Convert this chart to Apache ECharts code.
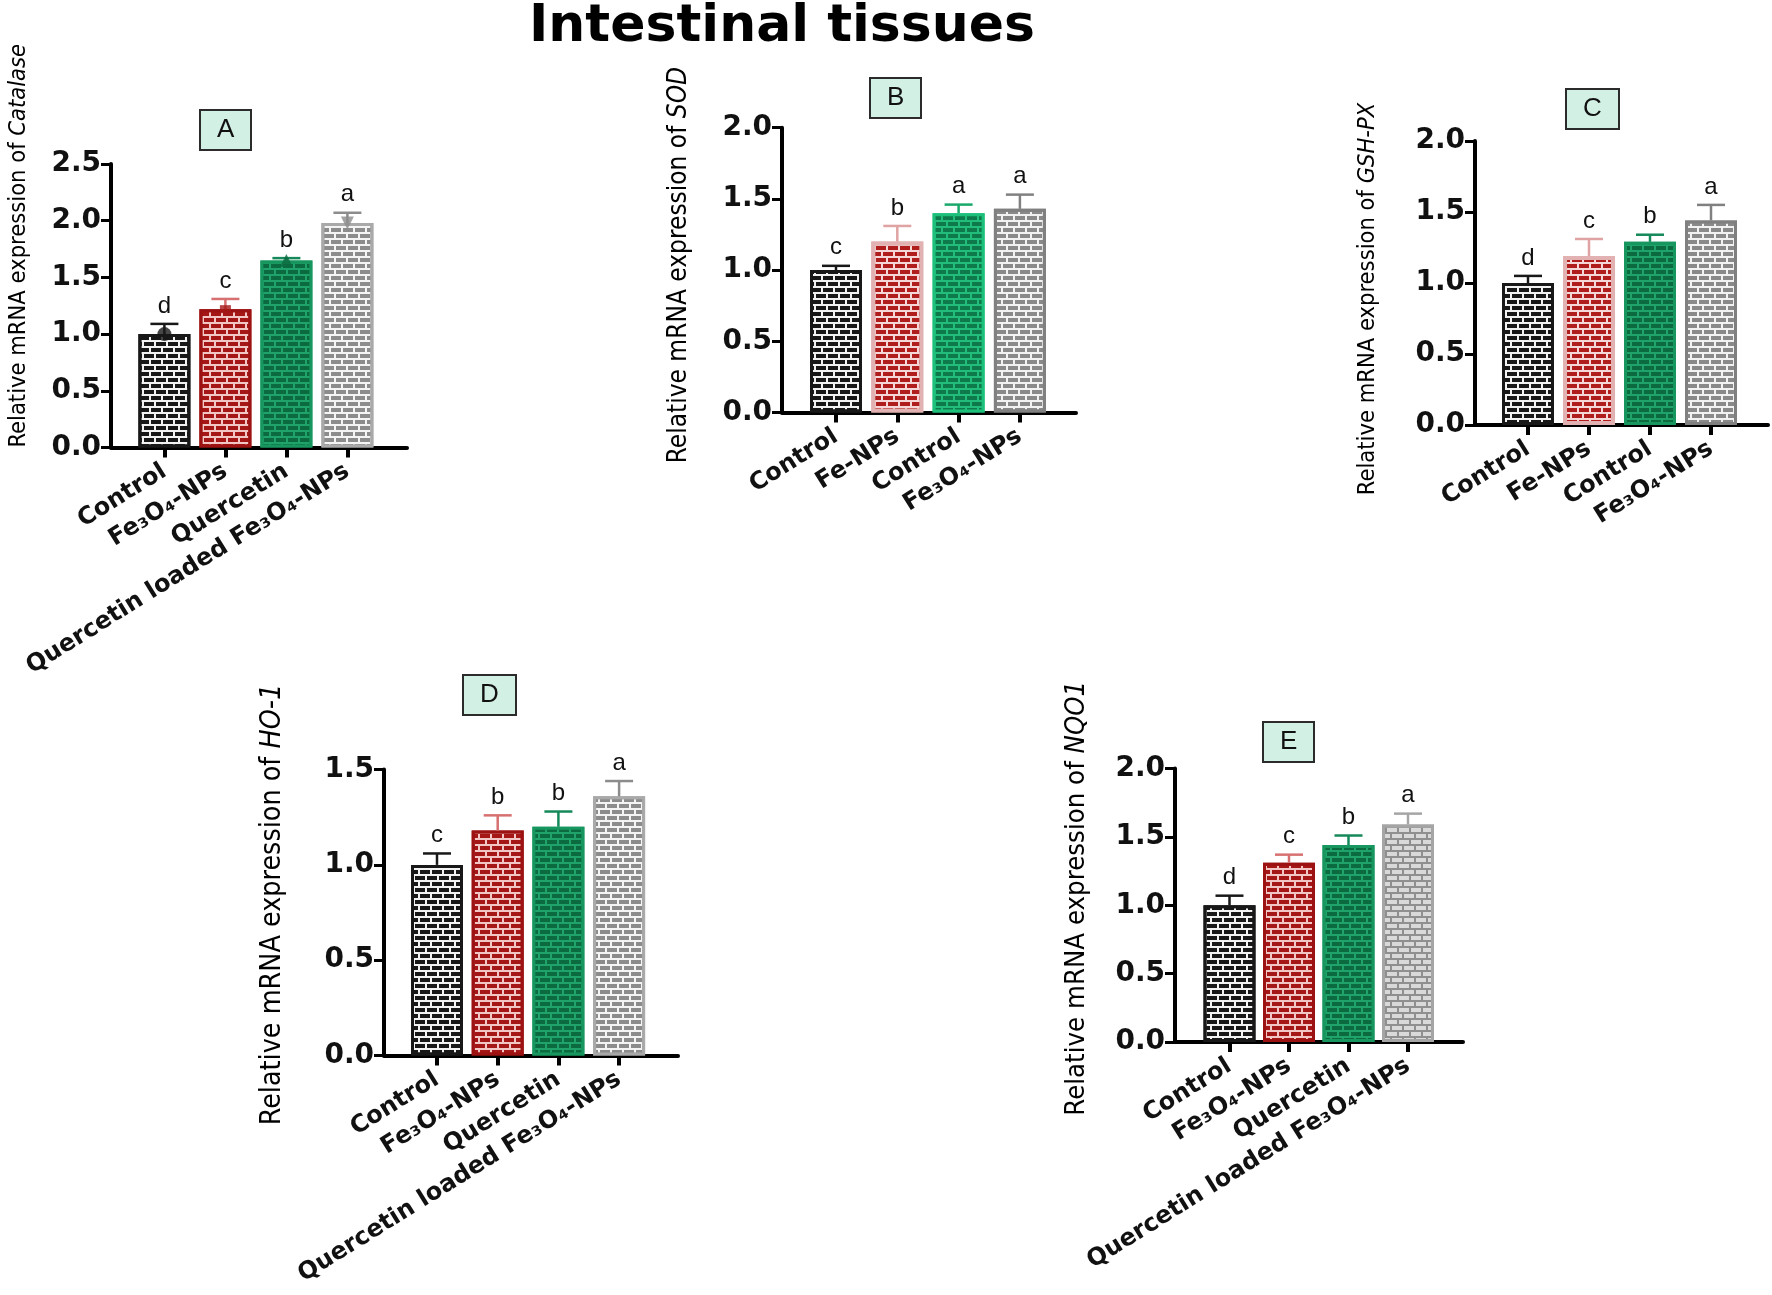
<!DOCTYPE html>
<html>
<head>
<meta charset="utf-8">
<title>Intestinal tissues</title>
<script src="https://cdn.jsdelivr.net/npm/echarts@6/dist/echarts.min.js"></script>
<style>
html, body { margin: 0; padding: 0; background: #fff; }
#main { width: 1772px; height: 1295px; }
</style>
</head>
<body>
<div id="main"></div>
<script>
// group names
var groupsQ = ['Control', 'Fe₃O₄-NPs', 'Quercetin', 'Quercetin loaded Fe₃O₄-NPs'];
var groupsFe = ['Control', 'Fe-NPs', 'Control', 'Fe₃O₄-NPs'];

// A - Catalase
var catMean = [1.00, 1.22, 1.65, 1.98];
var catErr = [0.09, 0.09, 0.02, 0.09];
var catSig = ['d', 'c', 'b', 'a'];
// B - SOD
var sodMean = [1.00, 1.20, 1.40, 1.43];
var sodErr = [0.03, 0.11, 0.06, 0.10];
var sodSig = ['c', 'b', 'a', 'a'];
// C - GSH-PX
var gshMean = [1.00, 1.19, 1.29, 1.44];
var gshErr = [0.05, 0.12, 0.05, 0.11];
var gshSig = ['d', 'c', 'b', 'a'];
// D - HO-1
var hoMean = [1.00, 1.18, 1.20, 1.36];
var hoErr = [0.06, 0.08, 0.08, 0.08];
var hoSig = ['c', 'b', 'b', 'a'];
// E - NQO1
var nqoMean = [1.00, 1.31, 1.44, 1.59];
var nqoErr = [0.07, 0.06, 0.07, 0.08];
var nqoSig = ['d', 'c', 'b', 'a'];

var NARROW = "'Liberation Sans Narrow', 'Arial Narrow', 'DejaVu Sans Condensed', sans-serif";
var WIDE = "'DejaVu Sans', Verdana, sans-serif";
var PLAIN = "'Liberation Sans', Arial, sans-serif";

// bar looks: mortar colour, brick colour, outline, error bar
var black = {fill: '#f2f2f2', brick: '#181818', border: '#181818', err: '#181818'};
var red = {fill: '#f3c6c6', brick: '#a51717', border: '#9c1111', err: '#d77070'};
var pink = {fill: '#f6d7d7', brick: '#b01d1d', border: '#e2b2b2', err: '#e0a3a3'};
var green = {fill: '#1fa36b', brick: '#0b6a40', border: '#17975f', err: '#15895a'};
var greenB = {fill: '#22bd7a', brick: '#0e7a4b', border: '#1cc07a', err: '#1aa86a'};
var grey = {fill: '#f4f4f4', brick: '#8c8c8c', border: '#a9a9a9', err: '#8c8c8c'};
var greyB = {fill: '#f2f2f2', brick: '#8a8a8a', border: '#808080', err: '#808080'};
var greyE = {fill: '#8f8f8f', brick: '#d9d9d9', border: '#a5a5a5', err: '#a5a5a5'};

var panels = [
    {key: 'A', gene: 'Catalase', cats: groupsQ, mean: catMean, err: catErr, sig: catSig, yMax: 2.5,
        looks: [black, red, green, grey], markers: true,
        axisX: 111, top: 164, zero: 447.5, first: 164.4, band: 61, end: 407, box: [200, 110],
        nameGap: 80, namePad: [0, 0, 0, 120], nameSize: 23.5},
    {key: 'B', gene: 'SOD', cats: groupsFe, mean: sodMean, err: sodErr, sig: sodSig, yMax: 2,
        looks: [black, pink, greenB, greyB],
        axisX: 782, top: 127.7, zero: 412.5, first: 836, band: 61.3, end: 1076, box: [870, 78],
        nameGap: 90, namePad: [0, 0, 0, 10], nameSize: 26},
    {key: 'C', gene: 'GSH-PX', cats: groupsFe, mean: gshMean, err: gshErr, sig: gshSig, yMax: 2,
        looks: [black, pink, green, greyB],
        axisX: 1475, top: 141, zero: 425, first: 1528, band: 61, end: 1768, box: [1566, 89],
        nameGap: 95, namePad: [0, 32, 0, 0], nameSize: 23.5},
    {key: 'D', gene: 'HO-1', cats: groupsQ, mean: hoMean, err: hoErr, sig: hoSig, yMax: 1.5,
        looks: [black, red, green, grey],
        axisX: 384, top: 769.6, zero: 1055.5, first: 437, band: 60.7, end: 678, box: [463, 675],
        nameGap: 97, namePad: [0, 0, 0, 16], nameSize: 28.4},
    {key: 'E', gene: 'NQO1', cats: groupsQ, mean: nqoMean, err: nqoErr, sig: nqoSig, yMax: 2,
        looks: [black, red, green, greyE],
        axisX: 1175, top: 768.5, zero: 1042, first: 1229.5, band: 59.5, end: 1463, box: [1263, 722],
        nameGap: 85, namePad: [0, 0, 0, 14], nameSize: 27.3}
];

function brick(color) {
    return {
        symbol: 'rect', symbolSize: 1, color: color,
        dashArrayX: [[10, 2], [5, 2, 5, 0]], dashArrayY: [4, 2]
    };
}

var grids = [], xAxes = [], yAxes = [], series = [];
var titles = [{
    text: 'Intestinal tissues', left: 524, top: -4,
    textStyle: {fontFamily: WIDE, fontWeight: 'bold', fontSize: 52, color: '#000'}
}];

panels.forEach(function (p) {
    var gi = grids.length;
    var left = p.first - p.band / 2;
    var h = p.zero - p.top;
    grids.push({left: left, top: p.top, width: p.band * 4, height: h});
    grids.push({left: p.axisX, top: p.top, width: p.end - p.axisX, height: h});

    xAxes.push({
        type: 'category', gridIndex: gi, data: p.cats,
        axisLine: {show: false},
        axisTick: {show: true, alignWithLabel: true, length: 10, lineStyle: {color: '#000', width: 4}},
        axisLabel: {interval: 0, rotate: 32, margin: 22, fontFamily: WIDE, fontWeight: 'bold',
            fontSize: 24, color: '#111'}
    });
    xAxes.push({
        type: 'value', gridIndex: gi + 1, min: 0, max: 1,
        axisLine: {show: true, lineStyle: {color: '#000', width: 4}},
        axisTick: {show: false}, axisLabel: {show: false}, splitLine: {show: false}
    });

    yAxes.push({
        type: 'value', gridIndex: gi, min: 0, max: p.yMax, interval: 0.5,
        offset: left - p.axisX,
        axisLine: {show: true, lineStyle: {color: '#000', width: 4}},
        axisTick: {show: true, length: 10, lineStyle: {color: '#000', width: 3}},
        axisLabel: {fontFamily: WIDE, fontWeight: 'bold', fontSize: 28, color: '#111', margin: 10,
            formatter: function (v) { return v.toFixed(1); }},
        splitLine: {show: false},
        name: '{n|Relative mRNA expression of }{i|' + p.gene + '}',
        nameLocation: 'middle', nameRotate: 90, nameGap: p.nameGap,
        nameTextStyle: {
            padding: p.namePad,
            rich: {
                n: {fontFamily: NARROW, fontSize: p.nameSize, color: '#000'},
                i: {fontFamily: NARROW, fontSize: p.nameSize, fontStyle: 'italic', color: '#000'}
            }
        }
    });
    yAxes.push({type: 'value', gridIndex: gi + 1, min: 0, max: 1, show: false});

    series.push({
        type: 'bar', xAxisIndex: gi, yAxisIndex: gi, barWidth: 52, z: 2,
        data: p.mean.map(function (v, i) {
            var lk = p.looks[i];
            return {
                value: v,
                itemStyle: {color: lk.fill, borderColor: lk.border, borderWidth: lk === pink ? 4 : 3,
                    decal: brick(lk.brick)}
            };
        })
    });

    series.push({
        type: 'custom', xAxisIndex: gi, yAxisIndex: gi, z: 5,
        data: p.mean.map(function (v, i) { return [i, v, v + p.err[i]]; }),
        encode: {x: 0, y: [1, 2]},
        renderItem: function (params, api) {
            var i = api.value(0);
            var base = api.coord([i, api.value(1)]);
            var top = api.coord([i, api.value(2)]);
            var c = p.looks[i].err;
            return {
                type: 'group',
                children: [
                    {type: 'line', shape: {x1: base[0], y1: base[1], x2: top[0], y2: top[1]},
                        style: {stroke: c, lineWidth: 2.5}},
                    {type: 'line', shape: {x1: top[0] - 14, y1: top[1], x2: top[0] + 14, y2: top[1]},
                        style: {stroke: c, lineWidth: 2.5}},
                    {type: 'text', x: top[0], y: top[1] - 6,
                        style: {text: p.sig[i], fill: '#111', fontFamily: PLAIN, fontSize: 24,
                            align: 'center', verticalAlign: 'bottom'}}
                ]
            };
        }
    });

    if (p.markers) {
        var shapes = ['circle', 'rect', 'triangle', 'path://M0,0 L10,0 L5,9 Z'];
        var sizes = [14, [11, 8], 13, 13];
        series.push({
            type: 'scatter', xAxisIndex: gi, yAxisIndex: gi, z: 6,
            data: p.mean.map(function (v, i) {
                return {value: [i, v], symbol: shapes[i], symbolSize: sizes[i],
                    itemStyle: {color: p.looks[i].brick}};
            })
        });
    }

    titles.push({
        text: p.key, left: p.box[0], top: p.box[1],
        backgroundColor: '#d3f0e5', borderColor: '#2b2b2b', borderWidth: 2, padding: [7, 17],
        textStyle: {fontFamily: PLAIN, fontWeight: 'normal', fontSize: 26, color: '#111'}
    });
});

var chart = echarts.init(document.getElementById('main'));
chart.setOption({
    backgroundColor: '#fff',
    animation: false,
    title: titles,
    grid: grids,
    xAxis: xAxes,
    yAxis: yAxes,
    series: series
});
</script>
</body>
</html>
